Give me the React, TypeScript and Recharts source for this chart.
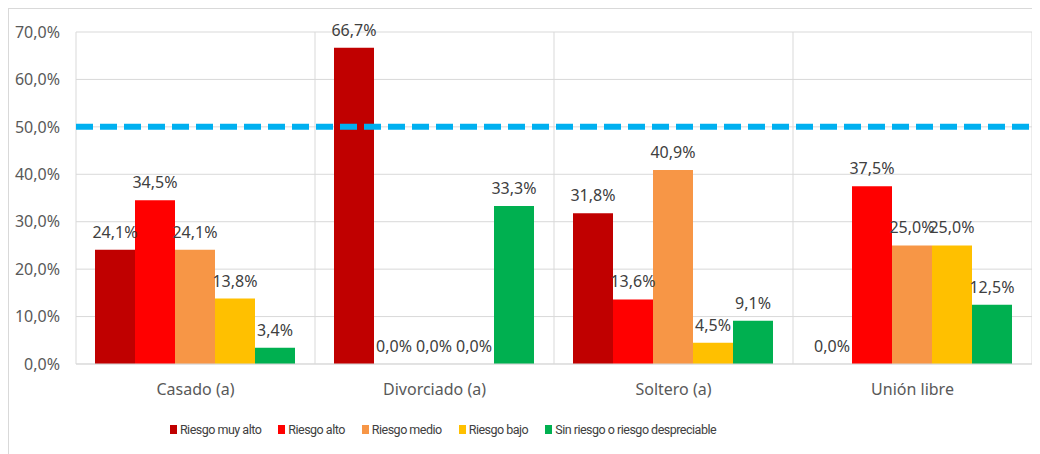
import React from "react";
import { BarChart, Bar, Cell, XAxis, YAxis, CartesianGrid, ReferenceLine, LabelList } from "recharts";

const categories = ["Casado (a)", "Divorciado (a)", "Soltero (a)", "Unión libre"];
const muyAlto = [24.1, 66.7, 31.8, 0.0];
const alto = [34.5, 0.0, 13.6, 37.5];
const medio = [24.1, 0.0, 40.9, 25.0];
const bajo = [13.8, 0.0, 4.5, 25.0];
const sinRiesgo = [3.4, 33.3, 9.1, 12.5];
const yTicks = [0, 10, 20, 30, 40, 50, 60, 70];
const threshold = 50;

const series = [
  { key: "muyAlto", name: "Riesgo muy alto", color: "#C00000", values: muyAlto },
  { key: "alto", name: "Riesgo alto", color: "#FF0000", values: alto },
  { key: "medio", name: "Riesgo medio", color: "#F79646", values: medio },
  { key: "bajo", name: "Riesgo bajo", color: "#FFC000", values: bajo },
  { key: "sinRiesgo", name: "Sin riesgo o riesgo despreciable", color: "#00B050", values: sinRiesgo },
];

const data = categories.map((name, i) => {
  const row: any = { name };
  series.forEach((s) => (row[s.key] = s.values[i]));
  return row;
});

const FONT = "'Noto Sans', sans-serif";
const pct = (v: any) => `${Number(v).toFixed(1).replace(".", ",")}%`;

// value above each bar; zero bars get a 1px invisible stub so they keep a label
const TopLabel = (props: any) => {
  const { x, y, width, height, value } = props;
  if (value == null) return null;
  const top = Number(value) === 0 ? Number(y) + Number(height) : Number(y);
  return (
    <text
      x={Number(x) + Number(width) / 2}
      y={top - 12}
      textAnchor="middle"
      fill="#404040"
      fontSize={16}
      fontFamily={FONT}
    >
      {pct(value)}
    </text>
  );
};

export default function App() {
  return (
    <div
      style={{
        position: "relative",
        width: 1031,
        height: 445,
        borderTop: "1px solid #D9D9D9",
        borderLeft: "1px solid #D9D9D9",
        fontFamily: FONT,
      }}
    >
      <BarChart
        width={1031}
        height={445}
        data={data}
        margin={{ top: 23, right: 8, bottom: 60, left: 0 }}
        barCategoryGap={19}
        barGap={0}
      >
        <CartesianGrid
          stroke="#D9D9D9"
          verticalCoordinatesGenerator={({ offset }: any) =>
            [0, 1, 2, 3, 4].map((i) => offset.left + (offset.width * i) / 4)
          }
        />
        <XAxis
          dataKey="name"
          axisLine={{ stroke: "#D9D9D9" }}
          tickLine={false}
          tickSize={0}
          tickMargin={20}
          height={30}
          tick={{ fill: "#595959", fontSize: 16, fontFamily: FONT }}
        />
        <YAxis
          domain={[0, 70]}
          ticks={yTicks}
          width={67}
          axisLine={false}
          tickLine={false}
          tickSize={0}
          tickMargin={16}
          tickFormatter={pct}
          tick={{ fill: "#595959", fontSize: 16, fontFamily: FONT }}
        />
        {series.map((s) => (
          <Bar
            key={s.key}
            dataKey={s.key}
            name={s.name}
            fill={s.color}
            minPointSize={1}
            isAnimationActive={false}
          >
            {s.values.map((v, i) => (
              <Cell key={i} fill={v === 0 ? "transparent" : s.color} />
            ))}
            <LabelList dataKey={s.key} content={TopLabel} />
          </Bar>
        ))}
        <ReferenceLine y={threshold} stroke="#00B0F0" strokeWidth={6} strokeDasharray="17 7" />
      </BarChart>
      <div
        style={{
          position: "absolute",
          left: 0,
          width: 868,
          top: 413,
          display: "flex",
          justifyContent: "center",
          gap: 17,
          fontFamily: "Roboto, sans-serif",
          fontSize: 12.5,
          letterSpacing: -0.5,
          color: "#404040",
        }}
      >
        {series.map((s) => (
          <div key={s.key} style={{ display: "flex", alignItems: "center", gap: 3 }}>
            <span style={{ display: "inline-block", width: 7, height: 9, background: s.color }} />
            <span>{s.name}</span>
          </div>
        ))}
      </div>
    </div>
  );
}
